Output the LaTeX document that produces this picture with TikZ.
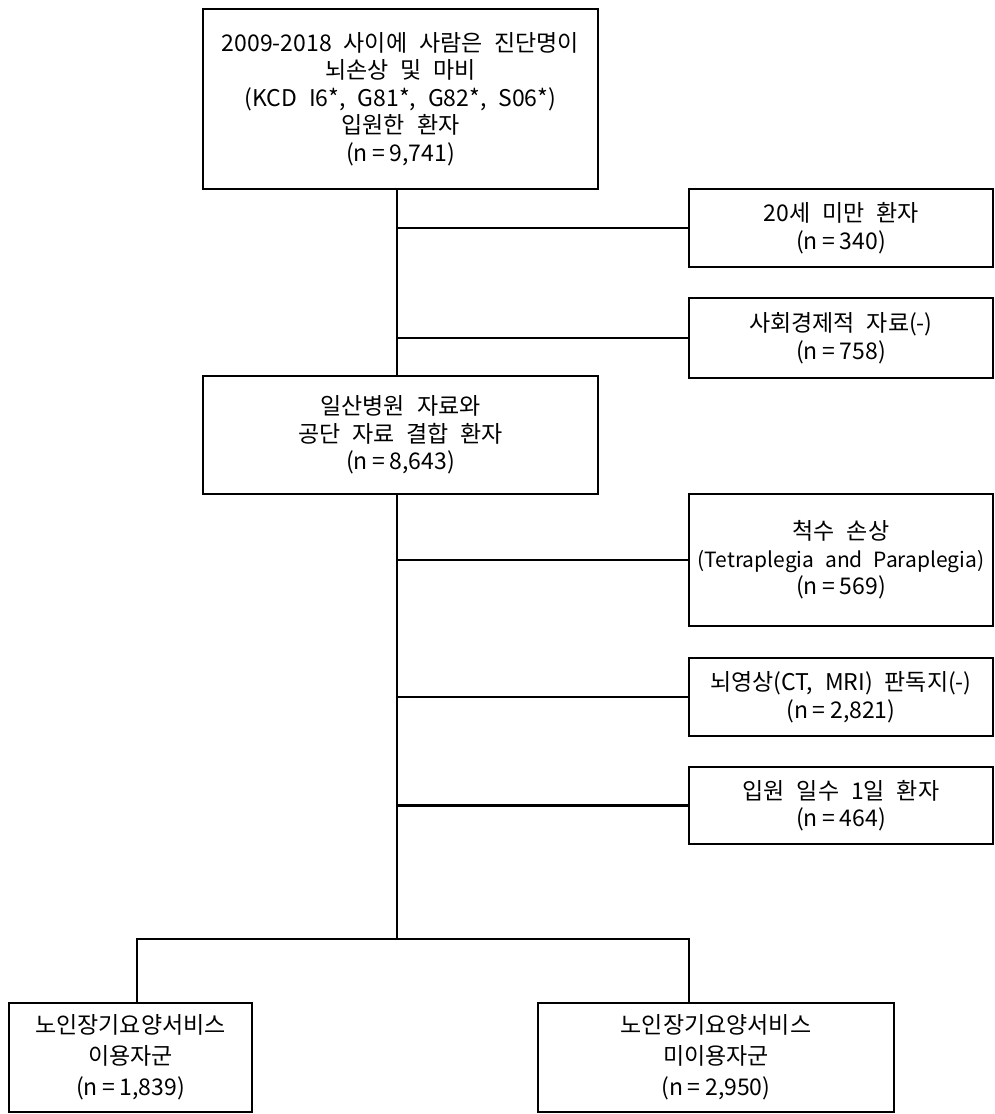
\documentclass[tikz,border=0pt]{standalone}
\usepackage{fontspec}
\setmainfont{Noto Sans CJK KR}[WordSpace=2.3]
\newcommand\eqs{\hspace{0.2em}=\hspace{0.2em}}
\begin{document}
\begin{tikzpicture}[x=1pt,y=-1pt,
  box/.style={draw=black,line width=2.6pt,rectangle,inner sep=0pt,align=center,
    font=\fontsize{23}{27.5}\selectfont},
  bigbox/.style={box,font=\fontsize{23}{31}\selectfont},
  link/.style={draw=black,line width=2.2pt}]
\useasboundingbox (0,0) rectangle (995,1114);
\node[box,minimum width=395pt,minimum height=180pt] (top) at (400.5,99)
  {2009-2018 사이에 사람은 진단명이\\뇌손상 및 마비\\(KCD I6*, G81*, G82*, S06*)\\입원한 환자\\(n\eqs 9,741)};
\node[box,minimum width=304pt,minimum height=78pt] (a) at (841,228)
  {20세 미만 환자\\(n\eqs 340)};
\node[box,minimum width=304pt,minimum height=80pt] (b) at (841,338)
  {사회경제적 자료(-)\\(n\eqs 758)};
\node[box,minimum width=395pt,minimum height=118pt] (mid) at (400.5,435)
  {일산병원 자료와\\공단 자료 결합 환자\\(n\eqs 8,643)};
\node[box,minimum width=304pt,minimum height=132pt] (c) at (841,560)
  {척수 손상\\{\fontsize{21}{27.5}\selectfont(Tetraplegia and Paraplegia)}\\(n\eqs 569)};
\node[box,minimum width=304pt,minimum height=78pt] (d) at (841,697)
  {뇌영상(CT, MRI) 판독지(-)\\(n\eqs 2,821)};
\node[box,minimum width=304pt,minimum height=77pt] (e) at (841,805.5)
  {입원 일수 1일 환자\\(n\eqs 464)};
\node[bigbox,minimum width=243pt,minimum height=109pt] (l) at (130.5,1057.5)
  {노인장기요양서비스\\이용자군\\(n\eqs 1,839)};
\node[bigbox,minimum width=356pt,minimum height=109pt] (r) at (716,1057.5)
  {노인장기요양서비스\\미이용자군\\(n\eqs 2,950)};
\coordinate (j) at (397,939);
\coordinate (jl) at (137,939);
\coordinate (jr) at (689,939);
\draw[link] (top.south -| j) -- (mid.north -| j);
\draw[link] (mid.south -| j) -- (j);
\draw[link] (a.west) -- (a.west -| j);
\draw[link] (b.west) -- (b.west -| j);
\draw[link] (c.west) -- (c.west -| j);
\draw[link] (d.west) -- (d.west -| j);
\draw[link] (e.west) -- (e.west -| j);
\draw[link] (jl |- l.north) -- (jl) -- (jr) -- (jr |- r.north);
\end{tikzpicture}
\end{document}
